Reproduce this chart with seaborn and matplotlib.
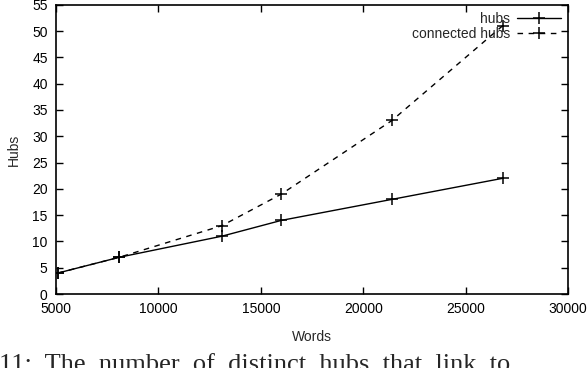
import pandas as pd
import matplotlib
matplotlib.use("Agg")
import matplotlib.pyplot as plt
import seaborn as sns

words = [5100, 8100, 13100, 16000, 21400, 26800]
hubs = [4, 7, 11, 14, 18, 22]
connected_hubs = [4, 7, 13, 19, 33, 51]

sns.set_style("ticks")
plt.rcParams['font.family'] = ['Liberation Sans', 'DejaVu Sans']

df = pd.DataFrame({
    'Words': words * 2,
    'Hubs': hubs + connected_hubs,
    'series': ['hubs'] * len(words) + ['connected hubs'] * len(words),
})

fig = plt.figure(figsize=(5.88, 3.68), dpi=100)
ax = fig.add_axes([0.0952, 0.201, 0.871, 0.786])

sns.lineplot(data=df, x='Words', y='Hubs', hue='series', style='series',
             palette={'hubs': 'black', 'connected hubs': 'black'},
             dashes={'hubs': '', 'connected hubs': (4, 4)},
             markers={'hubs': '+', 'connected hubs': '+'},
             markersize=9, markeredgewidth=1.1, markeredgecolor='black',
             linewidth=1.0, ax=ax)

ax.set_xlim(5000, 30000)
ax.set_ylim(0, 55)
ax.set_xticks(range(5000, 30001, 5000))
ax.set_yticks(range(0, 56, 5))
ax.tick_params(direction='in', top=True, right=True, length=5, width=1,
               labelsize=10, colors='black', pad=6)
for s in ax.spines.values():
    s.set_linewidth(1.2)
    s.set_color('black')
ax.set_xlabel('Words', fontsize=10, labelpad=10)
ax.set_ylabel('Hubs', fontsize=10, labelpad=8)

handles, labels = ax.get_legend_handles_labels()
for h in handles:
    h.set_markeredgecolor('black')
ax.legend(handles, labels, loc='upper right', frameon=False, markerfirst=False,
          fontsize=10, handlelength=3.2, borderaxespad=0.1, labelspacing=0.1,
          handletextpad=0.5)

fig.text(-0.002, -0.008, '11:  The  number  of  distinct  hubs  that  link  to',
         family='Liberation Serif', fontsize=19, va='baseline', ha='left')

fig.savefig('out.png', dpi=100)
